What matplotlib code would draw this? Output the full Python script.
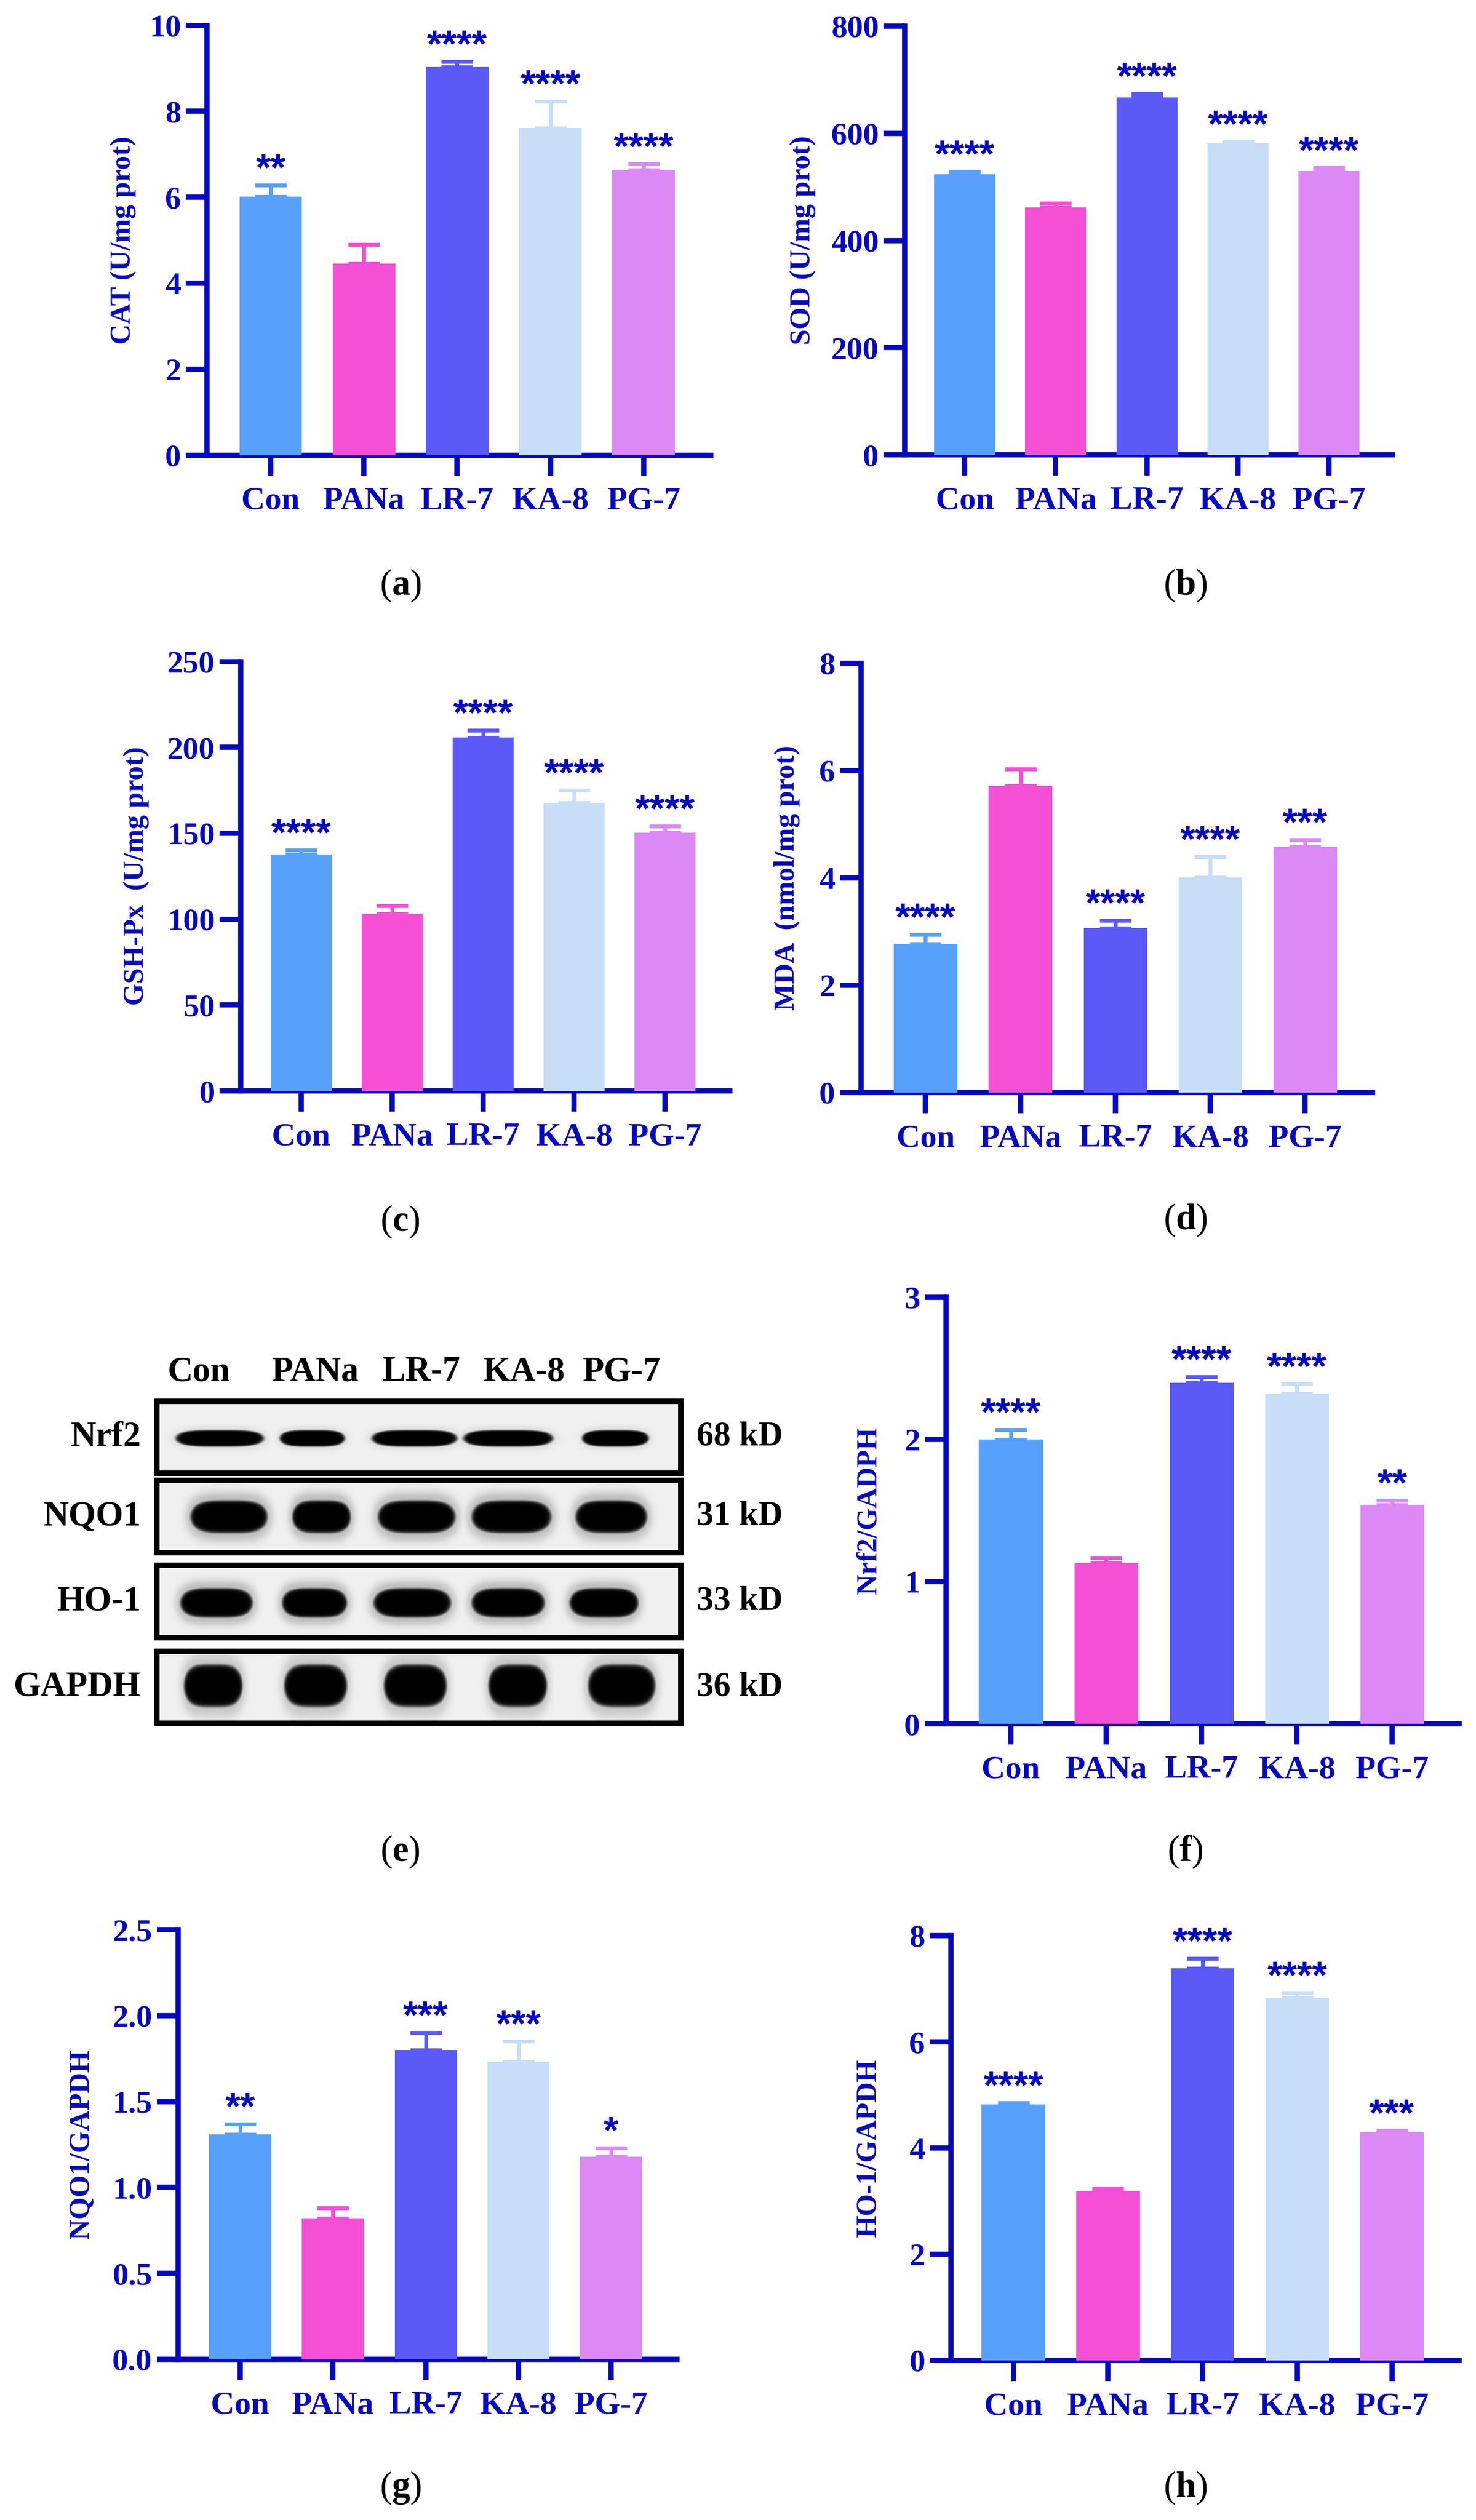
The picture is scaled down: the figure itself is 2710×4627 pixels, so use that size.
import numpy as np
import matplotlib
matplotlib.use('Agg')
import matplotlib.pyplot as plt
from matplotlib.patches import Rectangle
from matplotlib.ticker import FormatStrFormatter

plt.rcParams['font.family'] = ['Liberation Serif', 'DejaVu Serif']
plt.rcParams['font.weight'] = 'bold'
plt.rcParams['axes.labelweight'] = 'bold'
plt.rcParams['mathtext.fontset'] = 'custom'
plt.rcParams['mathtext.rm'] = 'Liberation Serif'
plt.rcParams['mathtext.bf'] = 'Liberation Serif:bold'

W, H, DPI = 2710, 4627, 300
BLUE = '#0808BC'

# Data.
groups = ['Con', 'PANa', 'LR-7', 'KA-8', 'PG-7']
bar_colors = ['#57A0FB', '#F54FD5', '#5B59F7', '#C8DDF7', '#DC89F5']

cat_mean = [6.02, 4.45, 9.03, 7.61, 6.63]
cat_err = [0.26, 0.45, 0.13, 0.62, 0.14]
cat_sig = ['**', '', '****', '****', '****']

sod_mean = [523, 462, 667, 581, 530]
sod_err = [6, 8, 7, 3, 6]
sod_sig = ['****', '', '****', '****', '****']

gsh_mean = [137.7, 103.0, 205.8, 167.7, 150.2]
gsh_err = [2.5, 4.9, 4.0, 7.4, 3.8]
gsh_sig = ['****', '', '****', '****', '****']

mda_mean = [2.77, 5.72, 3.07, 4.01, 4.58]
mda_err = [0.17, 0.31, 0.14, 0.39, 0.13]
mda_sig = ['****', '', '****', '****', '***']

nrf2_mean = [2.00, 1.13, 2.40, 2.32, 1.54]
nrf2_err = [0.07, 0.04, 0.04, 0.07, 0.03]
nrf2_sig = ['****', '', '****', '****', '**']

nqo1_mean = [1.31, 0.82, 1.80, 1.73, 1.18]
nqo1_err = [0.06, 0.06, 0.10, 0.12, 0.05]
nqo1_sig = ['**', '', '***', '***', '*']

ho1_mean = [4.82, 3.19, 7.38, 6.83, 4.30]
ho1_err = [0.03, 0.05, 0.19, 0.09, 0.03]
ho1_sig = ['****', '', '****', '****', '***']

blot_proteins = ['Nrf2', 'NQO1', 'HO-1', 'GAPDH']
blot_sizes = ['68 kD', '31 kD', '33 kD', '36 kD']

# Blot geometry (pixels): row boxes, band centre / thickness, lane extents.
blot_x = (288, 1250)
blot_rows = [(2573, 2705), (2718, 2851), (2874, 3007), (3032, 3164)]
band_y = [2641, 2785, 2943, 3095]
band_h = [30, 60, 54, 78]
band_lanes = [
    [(323, 484), (514, 633), (683, 839), (851, 1015), (1069, 1191)],
    [(350, 491), (537, 644), (694, 836), (866, 1012), (1057, 1188)],
    [(331, 464), (518, 637), (686, 828), (866, 1000), (1046, 1172)],
    [(338, 445), (522, 637), (705, 820), (897, 1004), (1080, 1203)],
]
band_halo = [0.08, 0.25, 0.25, 0.2]
lane_x = [365, 579, 774, 962, 1142]

fig = plt.figure(figsize=(W / DPI, H / DPI), dpi=DPI)

# Overlay in pixel coordinates for the blot and the panel captions.
ov = fig.add_axes([0, 0, 1, 1])
ov.axis('off')

for (y0, y1), cy, bh, lanes, hal in zip(blot_rows, band_y, band_h, band_lanes, band_halo):
    x0, x1 = blot_x
    X, Y = np.meshgrid(np.arange(x0, x1) + 0.5, np.arange(y0, y1) + 0.5)
    dark = np.zeros_like(X)
    for l, r in lanes:
        cx, hw, hh = (l + r) / 2, (r - l) / 2, bh / 2
        d = np.abs((X - cx) / hw) ** 4 + np.abs((Y - cy) / hh) ** 2
        core = 1 / (1 + np.exp((d - 1) * 9))
        d2 = np.abs((X - cx) / (hw * 1.1)) ** 4 + np.abs((Y - cy) / (hh * 1.45)) ** 2
        halo = hal / (1 + np.exp((d2 - 1) * 4))
        dark = np.maximum(dark, np.maximum(core, halo))
    img = 0.94 * (1 - dark)
    ov.imshow(img, cmap='gray', vmin=0, vmax=1, extent=(x0, x1, y1, y0),
              interpolation='bilinear', aspect='auto')
    ov.add_patch(Rectangle((x0, y0), x1 - x0, y1 - y0, fill=False,
                           lw=2.4, edgecolor='black'))

for (y0, y1), name, size in zip(blot_rows, blot_proteins, blot_sizes):
    ov.text(259, (y0 + y1) / 2, name, ha='right', va='center', fontsize=15.5, color='black')
    ov.text(1279, (y0 + y1) / 2, size, ha='left', va='center', fontsize=15, color='black')
for lx, g in zip(lane_x, groups):
    ov.text(lx, 2535, g, ha='center', va='baseline', fontsize=15.5, color='black')

captions = [('a', 735, 1075), ('b', 2176, 1075), ('c', 735, 2243), ('d', 2176, 2240),
            ('e', 735, 3400), ('f', 2176, 3400), ('g', 735, 4568), ('h', 2176, 4568)]
for letter, cx, cy in captions:
    ov.text(cx, cy, '($\\mathbf{%s}$)' % letter, ha='center', va='center',
            fontsize=16, fontweight='normal', color='black')

ov.set_xlim(0, W)
ov.set_ylim(H, 0)


def bar_panel(box, means, errs, sigs, ylabel, yticks, xlim, label_x, fmt=None):
    x0, x1, ytop, ybot = box
    ax = fig.add_axes([x0 / W, 1 - ybot / H, (x1 - x0) / W, (ybot - ytop) / H])
    ax.patch.set_alpha(0)
    x = np.arange(len(groups))
    ax.bar(x, means, width=0.67, color=bar_colors, zorder=3)
    for xi, m, e, c, s in zip(x, means, errs, bar_colors, sigs):
        ax.errorbar(xi, m, yerr=[[0], [e]], fmt='none', ecolor=c, elinewidth=1.7,
                    capsize=7, capthick=1.7, zorder=2)
        if s:
            ax.annotate(s, (xi, m + e), xytext=(0, 2), textcoords='offset points',
                        ha='center', va='baseline', fontsize=17, fontweight='bold',
                        family='Liberation Sans', color=BLUE, annotation_clip=False)
    ax.set_xlim(xlim)
    ax.set_ylim(0, yticks[-1])
    ax.set_yticks(yticks)
    ax.set_xticks(x, groups)
    if fmt:
        ax.yaxis.set_major_formatter(FormatStrFormatter(fmt))
    ax.spines['top'].set_visible(False)
    ax.spines['right'].set_visible(False)
    for side in ['left', 'bottom']:
        ax.spines[side].set_linewidth(2.3)
        ax.spines[side].set_color(BLUE)
    ax.tick_params(axis='y', length=9.4, width=2.3, color=BLUE, labelcolor=BLUE,
                   labelsize=14, pad=2)
    ax.tick_params(axis='x', length=9, width=2.3, color=BLUE, labelcolor=BLUE,
                   labelsize=14.5, pad=5)
    ax.set_ylabel(ylabel, fontsize=12.5, color=BLUE, fontweight='bold')
    ax.yaxis.set_label_coords(label_x, 0.5)
    return ax


bar_panel((380, 1305, 46.6, 835.5), cat_mean, cat_err, cat_sig, 'CAT (U/mg prot)',
          [0, 2, 4, 6, 8, 10], (-0.684, 4.72), -0.139)
bar_panel((1661, 2557, 48, 835), sod_mean, sod_err, sod_sig, 'SOD (U/mg prot)',
          [0, 200, 400, 600, 800], (-0.66, 4.70), -0.181)
bar_panel((442, 1340, 1214.5, 2003), gsh_mean, gsh_err, gsh_sig, 'GSH-Px  (U/mg prot)',
          [0, 50, 100, 150, 200, 250], (-0.665, 4.71), -0.186)
bar_panel((1581, 2520, 1218, 2006), mda_mean, mda_err, mda_sig, 'MDA  (nmol/mg prot)',
          [0, 2, 4, 6, 8], (-0.68, 4.71), -0.119)
bar_panel((1737, 2679, 2382, 3165), nrf2_mean, nrf2_err, nrf2_sig, 'Nrf2/GADPH',
          [0, 1, 2, 3], (-0.68, 4.70), -0.125)
bar_panel((327, 1243, 3543, 4332), nqo1_mean, nqo1_err, nqo1_sig, 'NQO1/GAPDH',
          [0.0, 0.5, 1.0, 1.5, 2.0, 2.5], (-0.67, 4.71), -0.168, fmt='%.1f')
bar_panel((1746, 2679, 3554, 4334), ho1_mean, ho1_err, ho1_sig, 'HO-1/GAPDH',
          [0, 2, 4, 6, 8], (-0.66, 4.71), -0.136)

fig.savefig('out.png', dpi=DPI, facecolor='white')
plt.close(fig)
